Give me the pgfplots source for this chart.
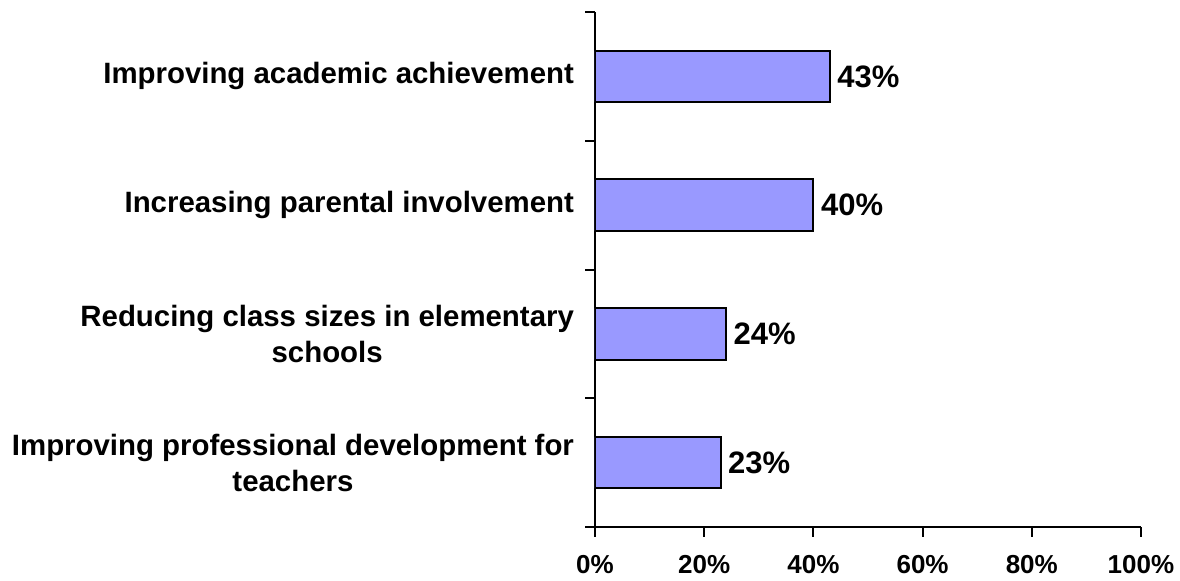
\documentclass[border=0pt]{standalone}
\usepackage{fontspec}
\setmainfont{Liberation Sans}
\usepackage{pgfplots}
\pgfplotsset{compat=1.18}
\definecolor{barblue}{HTML}{9999FF}

\begin{document}
\begin{tikzpicture}
\begin{axis}[
  scale only axis, width=273pt, height=257.5pt,
  at={(0,0)}, anchor=south west,
  xbar, bar width=0.4,
  xmin=0, xmax=100, ymin=-0.5, ymax=3.5,
  axis lines=left, axis line style={-, line width=1pt},
  tick align=outside, major tick length=4.75pt,
  tick style={line width=1pt, black},
  /pgf/number format/assume math mode=true,
  xtick={0,20,...,100},
  xticklabel={\pgfmathprintnumber{\tick}\%},
  x tick label style={font=\fontsize{13}{15}\selectfont\bfseries, yshift=-6pt},
  ytick={-0.5,0.5,1.5,2.5,3.5}, yticklabels={},
  extra y ticks={0,1,2,3},
  extra y tick labels={{Improving professional development for\\teachers},
                       {Reducing class sizes in elementary\\schools},
                       {Increasing parental involvement},
                       {Improving academic achievement}},
  extra y tick style={major tick length=0pt},
  y tick label style={align=center, font=\fontsize{14.7}{18}\selectfont\bfseries, xshift=-7pt},
  nodes near coords={\pgfmathprintnumber{\pgfplotspointmeta}\%},
  nodes near coords style={font=\fontsize{15.5}{18}\selectfont\bfseries},
]
\addplot[fill=barblue, draw=black, line width=1pt] coordinates {
  (23,0)
  (24,1)
  (40,2)
  (43,3)
};
\end{axis}
\pgfresetboundingbox
\path (-297.5pt,-26.5pt) rectangle (292.5pt,263.5pt);
\end{tikzpicture}
\end{document}
